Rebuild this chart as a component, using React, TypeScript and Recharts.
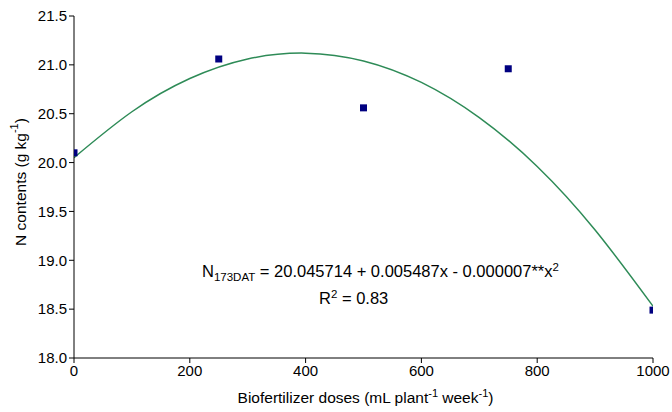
import React from "react";
import {
  ComposedChart,
  XAxis,
  YAxis,
  Line,
  Scatter,
  Label,
} from "recharts";

// observed values
const doses = [0, 250, 500, 750, 1000];
const nContents = [20.1, 21.06, 20.56, 20.96, 18.49];

// fitted curve
const curveX = [0, 100, 200, 300, 400, 500, 600, 700, 800, 900, 1000];
const curveY = [20.05, 20.52, 20.86, 21.06, 21.12, 21.04, 20.82, 20.46, 19.96, 19.31, 18.53];

const xTicks = [0, 200, 400, 600, 800, 1000];
const yTicks = [18.0, 18.5, 19.0, 19.5, 20.0, 20.5, 21.0, 21.5];

const points = doses.map((x, i) => ({ x, y: nContents[i] }));
const curve = curveX.map((x, i) => ({ x, fit: curveY[i] }));

const font = "'Liberation Sans', Arial, sans-serif";

const Square = (props: any) => {
  const { cx, cy } = props;
  return <rect x={cx - 3.5} y={cy - 3.5} width={7} height={7} fill="#000080" />;
};

export default function App() {
  return (
    <div style={{ position: "absolute", left: 0, top: 0, fontFamily: font }}>
      <ComposedChart
        width={672}
        height={412}
        margin={{ top: 16, right: 19, left: 0, bottom: 0 }}
      >
        <XAxis
          type="number"
          dataKey="x"
          domain={[0, 1000]}
          ticks={xTicks}
          height={54}
          stroke="#000"
          tickSize={5}
          tick={{ fill: "#000", fontSize: 15, fontFamily: font }}
          allowDataOverflow
        >
          <Label
            content={(p: any) => {
              const vb = p.viewBox;
              return (
                <text
                  x={vb.x + vb.width / 2 + 2}
                  y={vb.y + 45}
                  textAnchor="middle"
                  fontSize={15.5}
                  fontFamily={font}
                  fill="#000"
                >
                  Biofertilizer doses (mL plant
                  <tspan dy={-6} fontSize={11}>-1</tspan>
                  <tspan dy={6}> week</tspan>
                  <tspan dy={-6} fontSize={11}>-1</tspan>
                  <tspan dy={6}>)</tspan>
                </text>
              );
            }}
          />
        </XAxis>
        <YAxis
          type="number"
          domain={[18, 21.5]}
          ticks={yTicks}
          width={74}
          stroke="#000"
          tickSize={5}
          tickFormatter={(v: number) => v.toFixed(1)}
          tick={{ fill: "#000", fontSize: 15, fontFamily: font }}
          allowDataOverflow
        >
          <Label
            content={(p: any) => {
              const vb = p.viewBox;
              const cx = 20;
              const cy = vb.y + vb.height / 2 - 5;
              return (
                <text
                  x={cx}
                  y={cy}
                  transform={`rotate(-90 ${cx} ${cy})`}
                  textAnchor="middle"
                  dominantBaseline="central"
                  fontSize={15.5}
                  fontFamily={font}
                  fill="#000"
                >
                  N contents (g kg
                  <tspan dy={-6} fontSize={11}>-1</tspan>
                  <tspan dy={6}>)</tspan>
                </text>
              );
            }}
          />
        </YAxis>
        <Line
          data={curve}
          dataKey="fit"
          type="natural"
          stroke="#2e8b57"
          strokeWidth={1.5}
          dot={false}
          activeDot={false}
          isAnimationActive={false}
        />
        <Scatter
          data={points}
          dataKey="y"
          shape={<Square />}
          isAnimationActive={false}
        />
        <g fontFamily={font} fontSize={16.5} fill="#000">
          <text x={202} y={277}>
            N<tspan dy={4} fontSize={11.5}>173DAT</tspan>
            <tspan dy={-4}> = 20.045714 + 0.005487x - 0.000007**x</tspan>
            <tspan dy={-6} fontSize={11.5}>2</tspan>
          </text>
          <text x={319} y={304}>
            R<tspan dy={-6} fontSize={11.5}>2</tspan>
            <tspan dy={6}> = 0.83</tspan>
          </text>
        </g>
      </ComposedChart>
    </div>
  );
}
